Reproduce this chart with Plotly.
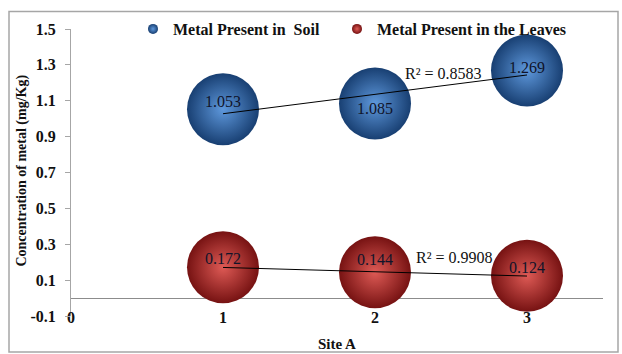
import numpy as np
import plotly.graph_objects as go

# Site A samples
sites = [1, 2, 3]
soil = [1.053, 1.085, 1.269]
leaves = [0.172, 0.144, 0.124]
series_names = ["Metal Present in  Soil", "Metal Present in the Leaves"]
y_ticks = [-0.1, 0.1, 0.3, 0.5, 0.7, 0.9, 1.1, 1.3, 1.5]
x_ticks = [0, 1, 2, 3]

FONT = "Liberation Serif, Times New Roman, serif"

fig = go.Figure()

styles = [
    dict(edge="#183f72", center="#5e98dc", legend="legend"),
    dict(edge="#761212", center="#de5a55", legend="legend2"),
]
label_shift = [[8, -5, 3], [9, 13, 8]]
r2_pos = [(2.45, 1.251), (2.52, 0.224)]

for name, vals, st in zip(series_names, [soil, leaves], styles):
    # bubbles
    fig.add_trace(go.Scatter(
        x=sites, y=vals, mode="markers", name=name, showlegend=False,
        marker=dict(size=72, color=st["edge"], line=dict(width=0),
                    gradient=dict(type="radial", color=st["center"])),
        cliponaxis=False,
    ))
    # small legend key
    fig.add_trace(go.Scatter(
        x=[None], y=[None], mode="markers", name=name, legend=st["legend"],
        marker=dict(size=10, color=st["edge"], line=dict(width=0),
                    gradient=dict(type="radial", color=st["center"])),
    ))

for vals, shifts, (rx, ry) in zip([soil, leaves], label_shift, r2_pos):
    x = np.array(sites, dtype=float)
    y = np.array(vals, dtype=float)
    slope, icpt = np.polyfit(x, y, 1)
    pred = slope * x + icpt
    r2 = 1 - np.sum((y - pred) ** 2) / np.sum((y - y.mean()) ** 2)
    xs = np.array([x.min(), x.max()])
    fig.add_trace(go.Scatter(
        x=xs, y=slope * xs + icpt, mode="lines", showlegend=False,
        line=dict(color="black", width=1), hoverinfo="skip",
    ))
    for xi, yi, s in zip(sites, vals, shifts):
        fig.add_annotation(x=xi, y=yi, text=f"{yi:.3f}", showarrow=False,
                           yshift=s, font=dict(family=FONT, size=16, color="#10142a"))
    fig.add_annotation(x=rx, y=ry, text=f"R² = {r2:.4f}", showarrow=False,
                       font=dict(family=FONT, size=16, color="#111"))

L, R, T, B = 71, 19, 22, 38
W, H = 622, 354
pw, ph = W - L - R, H - T - B

# chart frame
fig.add_shape(type="rect", xref="paper", yref="paper",
              x0=(9 - L) / pw, x1=(618 - L) / pw,
              y0=-(353 - (H - B)) / ph, y1=(H - B - 4) / ph,
              line=dict(color="#a6a6a6", width=1.5), layer="below")

# vertical axis title
fig.add_annotation(xref="paper", yref="paper", x=(22 - L) / pw, y=(H - B - 167) / ph,
                   xanchor="center", yanchor="middle",
                   text="<b>Concentration of metal (mg/Kg)</b>", textangle=-90,
                   showarrow=False, font=dict(family=FONT, size=14, color="#111"))

legend_common = dict(orientation="h", y=1.0, yanchor="middle", xanchor="left",
                     bgcolor="rgba(0,0,0,0)",
                     font=dict(family=FONT, size=16, color="#111", weight="bold"))

fig.update_layout(
    width=W, height=H,
    margin=dict(l=L, r=R, t=T, b=B),
    paper_bgcolor="white", plot_bgcolor="white",
    font=dict(family=FONT, size=16, color="#111"),
    showlegend=True,
    legend=dict(x=(133 - L) / pw, **legend_common),
    legend2=dict(x=(337 - L) / pw, **legend_common),
    xaxis=dict(range=[0, 3.5], tickvals=x_ticks, showgrid=False,
               zeroline=False, showline=False, ticks="", automargin=False,
               ticklabelstandoff=-10,
               tickfont=dict(family=FONT, size=16, weight="bold"),
               title=dict(text="<b>Site A</b>", font=dict(family=FONT, size=15), standoff=13)),
    yaxis=dict(range=[-0.1, 1.5], tickvals=y_ticks, ticktext=[f"{v:.1f}" for v in y_ticks],
               showgrid=False, zeroline=True, zerolinecolor="#8c8c8c", zerolinewidth=1,
               showline=True, linecolor="#a6a6a6", linewidth=1, automargin=False,
               ticks="outside", ticklen=5, tickcolor="#a6a6a6",
               ticklabelstandoff=6,
               tickfont=dict(family=FONT, size=16, weight="bold")),
)

fig.write_html("out.html")
